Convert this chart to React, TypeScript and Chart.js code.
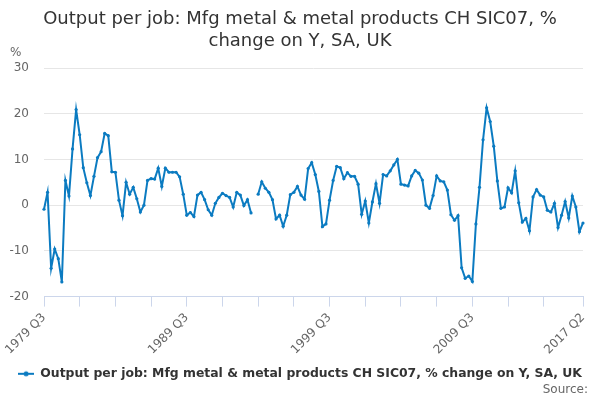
import React, { useEffect, useRef } from 'react';
import { Chart, registerables } from 'chart.js';

Chart.register(...registerables);

const TITLE = ['Output per job: Mfg metal & metal products CH SIC07, %', 'change on Y, SA, UK'];
const SERIES_NAME = 'Output per job: Mfg metal & metal products CH SIC07, % change on Y, SA, UK';
const SOURCE = 'Source:';

// quarters 1979 Q3 .. 2017 Q2
const quarters: string[] = [];
for (let y = 1979, q = 3; y < 2017 || (y === 2017 && q <= 2); q === 4 ? (y++, q = 1) : q++) {
  quarters.push(`${y} Q${q}`);
}

const shownLabels = ['1979 Q3', '1989 Q3', '1999 Q3', '2009 Q3', '2017 Q2'];

const values: (number | null)[] = [
  -0.9, 2.8, -13.8, -9.6, -11.7, -16.8, 5.4, 2.0, 12.3, 20.9,
  15.4, 8.2, 4.9, 2.1, 6.3, 10.4, 11.7, 15.7, 15.2, 7.3,
  7.2, 1.1, -2.3, 5.0, 2.4, 3.9, 1.4, -1.5, 0.0, 5.4,
  5.8, 5.7, 8.1, 4.1, 8.1, 7.2, 7.2, 7.2, 6.2, 2.4,
  -2.2, -1.6, -2.5, 2.2, 2.8, 1.2, -1.0, -2.2, 0.4, 1.7,
  2.6, 2.1, 1.7, -0.4, 2.8, 2.2, -0.1, 1.2, -1.7, null,
  2.4, 5.1, 3.7, 2.8, 1.2, -3.0, -2.2, -4.6, -2.2, 2.3,
  2.8, 4.1, 2.2, 1.3, 8.0, 9.3, 6.7, 3.0, -4.7, -4.1,
  1.1, 5.4, 8.5, 8.2, 5.8, 7.1, 6.3, 6.3, 4.6, -2.0,
  0.9, -3.9, 0.7, 4.7, 0.4, 6.7, 6.4, 7.5, 8.8, 10.0,
  4.6, 4.4, 4.2, 6.4, 7.6, 7.0, 5.5, 0.0, -0.7, 2.1,
  6.4, 5.3, 5.1, 3.3, -2.1, -3.3, -2.3, -13.7, -16.0, -15.5,
  -16.7, -4.1, 3.9, 14.3, 21.3, 18.3, 12.9, 5.3, -0.7, -0.4,
  3.8, 2.7, 7.5, 0.5, -3.7, -2.9, -5.6, 1.8, 3.4, 2.2,
  1.8, -1.1, -1.5, 0.4, -4.9, -2.2, 0.8, -2.8, 2.0, -0.4,
  -5.8, -3.9,
];

const LINE = '#0b7bc1';

function legendMarker() {
  const c = document.createElement('canvas');
  c.width = 16;
  c.height = 8;
  const g = c.getContext('2d')!;
  g.strokeStyle = LINE;
  g.lineWidth = 2;
  g.beginPath();
  g.moveTo(0, 4);
  g.lineTo(16, 4);
  g.stroke();
  g.fillStyle = LINE;
  g.beginPath();
  g.arc(8, 4, 2.5, 0, Math.PI * 2);
  g.fill();
  return c;
}

// "%" unit over the y axis and the source note in the bottom right corner
const extraText = {
  id: 'extraText',
  afterDraw(chart: Chart) {
    const { ctx, chartArea } = chart;
    ctx.save();
    ctx.font = '12px "DejaVu Sans"';
    ctx.fillStyle = '#666666';
    ctx.textBaseline = 'middle';
    ctx.textAlign = 'left';
    ctx.fillText('%', chartArea.left - 34, chartArea.top - 15);
    ctx.textAlign = 'right';
    ctx.fillText(SOURCE, chart.width - 12, chart.height - 10);
    ctx.restore();
  },
};

export default function App() {
  const canvasRef = useRef<HTMLCanvasElement>(null);
  const chartRef = useRef<Chart | null>(null);

  useEffect(() => {
    if (!canvasRef.current) return;
    const ctx = canvasRef.current.getContext('2d');
    if (!ctx) return;
    if (chartRef.current) chartRef.current.destroy();

    const lastIdx = quarters.length - 1;

    chartRef.current = new Chart(ctx, {
      type: 'line',
      data: {
        labels: quarters,
        datasets: [{
          label: SERIES_NAME,
          data: values,
          borderColor: LINE,
          backgroundColor: LINE,
          borderWidth: 2,
          pointRadius: 1.6,
          pointHoverRadius: 3,
          pointBackgroundColor: LINE,
          pointBorderWidth: 0,
          spanGaps: false,
          tension: 0,
          pointStyle: 'circle',
        }],
      },
      options: {
        animation: false,
        responsive: true,
        maintainAspectRatio: false,
        layout: { padding: { left: 0, right: 0, top: 0, bottom: 10 } },
        scales: {
          x: {
            offset: false,
            border: { display: true, color: '#ccd6eb', width: 1 },
            grid: {
              drawOnChartArea: false,
              drawTicks: true,
              tickLength: 10,
              tickColor: (c: any) =>
                (c.index % 10 === 0 && c.index < 150) || c.index === lastIdx ? '#ccd6eb' : 'rgba(0,0,0,0)',
            },
            ticks: {
              autoSkip: false,
              minRotation: 45,
              maxRotation: 45,
              padding: 4,
              color: '#666666',
              font: { family: 'DejaVu Sans', size: 12 },
              callback: (_v: any, i: number) => (shownLabels.includes(quarters[i]) ? quarters[i] : ''),
            },
            afterFit: (s: any) => {
              s.height = 69;
              s.paddingRight = 17;
            },
          },
          y: {
            min: -20,
            max: 30,
            border: { display: false },
            grid: { color: '#e6e6e6', drawTicks: false },
            ticks: {
              stepSize: 10,
              padding: 15,
              color: '#666666',
              font: { family: 'DejaVu Sans', size: 12 },
            },
            afterFit: (s: any) => { s.width = 44; },
          },
        },
        plugins: {
          title: {
            display: true,
            text: TITLE,
            color: '#333333',
            font: { family: 'DejaVu Sans', size: 18, weight: 'normal', lineHeight: 1.25 },
            padding: { top: 8, bottom: 15 },
          },
          legend: {
            position: 'bottom',
            labels: {
              usePointStyle: true,
              pointStyle: legendMarker(),
              pointStyleWidth: 16,
              color: '#333333',
              font: { family: 'DejaVu Sans', size: 12.4, weight: 'bold' },
              padding: 2,
            },
          },
          tooltip: { enabled: true },
        },
      },
      plugins: [extraText],
    });

    return () => {
      if (chartRef.current) chartRef.current.destroy();
      chartRef.current = null;
    };
  }, []);

  return (
    <div style={{ position: 'absolute', left: 0, top: 0, width: 600, height: 400, background: '#ffffff' }}>
      <canvas ref={canvasRef} />
    </div>
  );
}
